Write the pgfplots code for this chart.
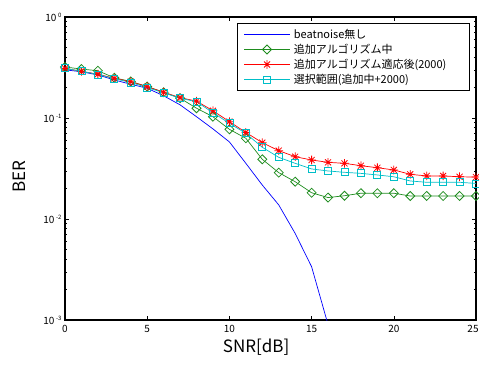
\documentclass[border=0pt]{standalone}
\usepackage{pgfplots}
\pgfplotsset{compat=1.18}
\usepackage{fontspec}
\setmainfont{Noto Sans CJK JP}
\definecolor{mblue}{RGB}{0,0,255}
\definecolor{mgreen}{RGB}{30,140,30}
\definecolor{mred}{RGB}{255,0,0}
\definecolor{mcyan}{RGB}{0,190,200}
\pgfdeclareplotmark{ast8}{%
  \pgfpathmoveto{\pgfqpoint{0pt}{\pgfplotmarksize}}\pgfpathlineto{\pgfqpoint{0pt}{-\pgfplotmarksize}}%
  \pgfpathmoveto{\pgfqpoint{\pgfplotmarksize}{0pt}}\pgfpathlineto{\pgfqpoint{-\pgfplotmarksize}{0pt}}%
  \pgfpathmoveto{\pgfqpoint{.7\pgfplotmarksize}{.7\pgfplotmarksize}}\pgfpathlineto{\pgfqpoint{-.7\pgfplotmarksize}{-.7\pgfplotmarksize}}%
  \pgfpathmoveto{\pgfqpoint{.7\pgfplotmarksize}{-.7\pgfplotmarksize}}\pgfpathlineto{\pgfqpoint{-.7\pgfplotmarksize}{.7\pgfplotmarksize}}%
  \pgfusepathqstroke}
\pgfdeclareplotmark{dia}{%
  \pgfpathmoveto{\pgfqpoint{0pt}{\pgfplotmarksize}}%
  \pgfpathlineto{\pgfqpoint{\pgfplotmarksize}{0pt}}%
  \pgfpathlineto{\pgfqpoint{0pt}{-\pgfplotmarksize}}%
  \pgfpathlineto{\pgfqpoint{-\pgfplotmarksize}{0pt}}%
  \pgfpathclose\pgfusepathqstroke}
\newcommand{\ex}[1]{10\,\raisebox{0.75ex}{\fontsize{6}{6}\selectfont #1}}
\begin{document}
\begin{tikzpicture}
\begin{axis}[
  at={(0,0)}, anchor=south west,
  scale only axis, width=411pt, height=303pt,
  ymode=log, xmin=0, xmax=25, ymin=1e-3, ymax=1,
  xtick={0,5,10,15,20,25},
  xticklabels={0,5,10,15,20,{\hspace{-6pt}25}},
  ytick={1e-3,1e-2,1e-1,1},
  yticklabels={\ex{-3},\ex{-2},\ex{-1},\ex{0}},
  /pgf/number format/assume math mode=true,
  tick label style={font=\fontsize{10}{12}\selectfont},
  xticklabel style={yshift=-1.5pt},
  tick align=inside,
  major tick length=4pt, minor tick length=2.5pt,
  axis line style={line width=1.3pt},
  every tick/.style={black, line width=0.6pt},
  xlabel={SNR[dB]}, ylabel={BER},
  every axis x label/.style={at={(axis description cs:0.465,-0.089)}, anchor=center, font=\fontsize{17}{20}\selectfont},
  every axis y label/.style={at={(axis description cs:-0.111,0.472)}, anchor=center, rotate=90, font=\fontsize{17}{20}\selectfont},
  legend style={at={(rel axis cs:0.985,0.98)}, anchor=north east,
    draw=black, line width=0.9pt, font=\fontsize{11}{13}\selectfont,
    row sep=0pt, inner xsep=6pt, inner ysep=3.5pt,
    nodes={inner xsep=1.5pt, inner ysep=1pt, text height=10pt, text depth=3pt},
    /tikz/every even column/.append style={text width=168pt}},
  legend cell align=left,
  legend image code/.code={\draw[mark repeat=2,mark phase=2] plot coordinates {(0pt,0pt) (23pt,0pt) (46pt,0pt)}; \path (48pt,0pt);},
  clip=true,
]
\addplot[mblue, line width=0.7pt] coordinates {
(0,0.300) (1,0.287) (2,0.267) (3,0.238) (4,0.216) (5,0.197) (6,0.166) (7,0.135) (8,0.103) (9,0.078)
(10,0.058) (11,0.0356) (12,0.0217) (13,0.0138) (14,0.0072) (15,0.00337) (16,0.0009)};
\addlegendentry{beatnoise無し}
\addplot[mgreen, line width=0.7pt, mark=dia, mark size=4.5pt, mark options={solid, line width=0.8pt}] coordinates {
(0,0.320) (1,0.305) (2,0.294) (3,0.250) (4,0.230) (5,0.205) (6,0.180) (7,0.157) (8,0.125) (9,0.103)
(10,0.0773) (11,0.063) (12,0.039) (13,0.0288) (14,0.0234) (15,0.0182) (16,0.0163) (17,0.0170) (18,0.0180)
(19,0.0180) (20,0.0180) (21,0.0169) (22,0.0169) (23,0.0169) (24,0.0169) (25,0.0169)};
\addlegendentry{追加アルゴリズム中}
\addplot[mred, line width=0.7pt, mark=ast8, mark size=4.3pt, mark options={solid, line width=0.8pt}] coordinates {
(0,0.310) (1,0.290) (2,0.272) (3,0.247) (4,0.229) (5,0.204) (6,0.180) (7,0.159) (8,0.147) (9,0.118)
(10,0.092) (11,0.072) (12,0.057) (13,0.0475) (14,0.0414) (15,0.0384) (16,0.0364) (17,0.0356) (18,0.0337)
(19,0.0322) (20,0.0306) (21,0.0277) (22,0.0267) (23,0.0267) (24,0.0262) (25,0.0260)};
\addlegendentry{追加アルゴリズム適応後(2000)}
\addplot[mcyan, line width=0.7pt, mark=square, mark size=3.5pt, mark options={solid, line width=0.8pt}] coordinates {
(0,0.310) (1,0.290) (2,0.270) (3,0.245) (4,0.225) (5,0.200) (6,0.178) (7,0.157) (8,0.145) (9,0.113)
(10,0.0886) (11,0.0705) (12,0.0513) (13,0.0408) (14,0.0356) (15,0.0313) (16,0.0299) (17,0.0290) (18,0.0283)
(19,0.0273) (20,0.0262) (21,0.0238) (22,0.0231) (23,0.0231) (24,0.0231) (25,0.0225)};
\addlegendentry{選択範囲(追加中+2000)}
\end{axis}
\pgfresetboundingbox
\path[use as bounding box] (-65pt,-45pt) rectangle (414pt,320pt);
\end{tikzpicture}
\end{document}
